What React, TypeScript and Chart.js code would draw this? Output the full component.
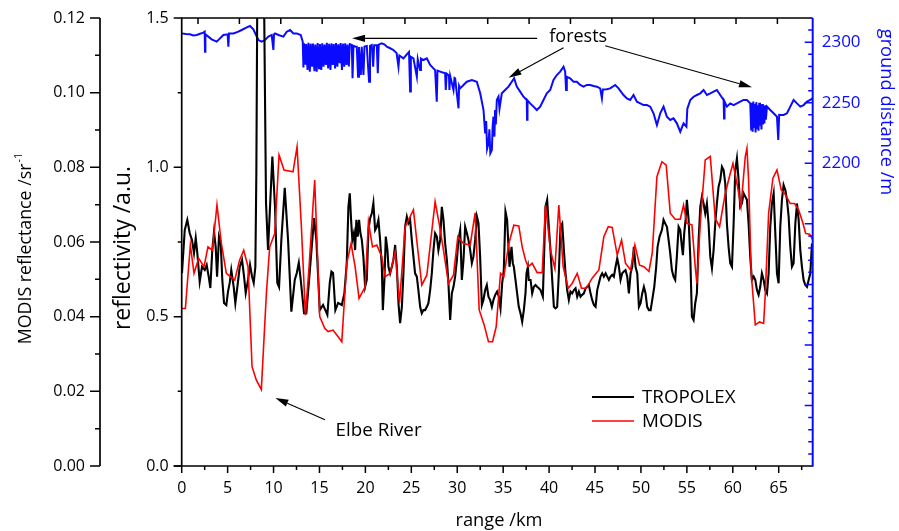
import { useEffect, useRef } from "react";
import { Chart, registerables } from "chart.js";

Chart.register(...registerables);

// ---------------- data ----------------
const tropolexKm = [
  0.03, 0.33, 0.61, 0.87, 1.12, 1.34, 1.53, 1.70, 1.96, 2.21, 2.51, 2.72, 2.94, 3.12, 3.33, 3.52, 3.70, 3.85, 4.06, 4.25,
  4.42, 4.61, 4.86, 5.04, 5.23, 5.40, 5.66, 5.84, 6.06, 6.32, 6.57, 6.79, 6.97, 7.22, 7.44, 7.66, 7.84, 8.02, 8.13, 8.26,
  8.91, 9.18, 9.40, 9.87, 10.16, 10.41, 10.60, 10.85, 11.22, 11.58, 11.94, 12.31, 12.53, 12.75, 12.96, 13.32, 13.57, 13.87, 14.41, 14.66,
  15.03, 15.39, 15.64, 15.86, 16.12, 16.30, 16.48, 16.73, 17.03, 17.43, 17.71, 17.97, 18.15, 18.30, 18.44, 18.58, 18.74, 18.88, 19.02, 19.17,
  19.31, 19.46, 19.61, 19.78, 19.97, 20.15, 20.33, 20.51, 20.70, 20.87, 21.06, 21.24, 21.42, 21.60, 21.79, 21.90, 22.07, 22.22, 22.40, 22.51,
  22.69, 22.88, 23.05, 23.24, 23.42, 23.60, 23.78, 23.97, 24.14, 24.32, 24.51, 24.68, 24.87, 25.05, 25.23, 25.41, 25.60, 25.77, 25.96, 26.14,
  26.32, 26.50, 26.69, 26.86, 27.05, 27.23, 27.41, 27.59, 27.78, 27.95, 28.14, 28.32, 28.50, 28.68, 28.87, 29.04, 29.23, 29.41, 29.59, 29.77,
  29.96, 30.13, 30.32, 30.50, 30.68, 30.86, 31.05, 31.22, 31.41, 31.59, 31.76, 31.95, 32.14, 32.31, 32.49, 32.68, 32.85, 33.04, 33.22, 33.40,
  33.58, 33.77, 33.94, 34.13, 34.34, 34.53, 34.71, 34.89, 35.07, 35.25, 35.43, 35.54, 35.69, 35.91, 36.05, 36.16, 36.34, 36.52, 36.70, 36.89,
  37.07, 37.25, 37.43, 37.54, 37.69, 37.79, 37.98, 38.16, 38.34, 38.52, 38.70, 38.88, 39.07, 39.32, 39.43, 39.61, 39.79, 39.97, 40.15, 40.34,
  40.52, 40.70, 40.88, 41.06, 41.24, 41.43, 41.61, 41.79, 41.97, 42.15, 42.33, 42.51, 42.70, 42.88, 43.06, 43.24, 43.42, 43.60, 43.79, 43.97,
  44.15, 44.33, 44.51, 44.69, 44.88, 45.06, 45.24, 45.42, 45.60, 45.78, 45.96, 46.15, 46.33, 46.51, 46.69, 46.87, 47.05, 47.24, 47.42, 47.60,
  47.78, 47.96, 48.14, 48.32, 48.51, 48.69, 48.87, 49.05, 49.23, 49.41, 49.60, 49.78, 49.96, 50.14, 50.32, 50.50, 50.68, 50.87, 51.05, 51.23,
  51.45, 51.66, 51.81, 52.03, 52.28, 52.46, 52.64, 52.83, 53.01, 53.19, 53.37, 53.55, 53.73, 53.91, 54.10, 54.28, 54.46, 54.57, 54.71, 54.86,
  55.00, 55.19, 55.37, 55.55, 55.73, 55.91, 56.09, 56.28, 56.46, 56.64, 56.82, 57.00, 57.18, 57.36, 57.55, 57.73, 57.91, 58.09, 58.27, 58.45,
  58.64, 58.82, 59.00, 59.18, 59.36, 59.54, 59.72, 59.91, 60.09, 60.27, 60.45, 60.63, 60.81, 60.99, 61.18, 61.36, 61.54, 61.72, 61.90, 62.08,
  62.27, 62.45, 62.63, 62.81, 62.99, 63.17, 63.36, 63.54, 63.72, 63.90, 64.08, 64.26, 64.45, 64.63, 64.81, 64.99, 65.17, 65.35, 65.53, 65.72,
  65.90, 66.08, 66.26, 66.44, 66.62, 66.81, 66.99, 67.17, 67.35, 67.53, 67.71, 67.89, 68.08, 68.26, 68.44, 68.62,
];
const tropolexRefl = [
  0.646, 0.790, 0.824, 0.780, 0.757, 0.713, 0.763, 0.713, 0.617, 0.667, 0.656, 0.673, 0.634, 0.596, 0.723, 0.784, 0.734, 0.634, 0.768, 0.747,
  0.623, 0.546, 0.539, 0.584, 0.613, 0.656, 0.600, 0.545, 0.600, 0.667, 0.690, 0.634, 0.579, 0.623, 0.673, 0.634, 0.613, 0.667, 0.991, 1.75,
  1.75, 0.881, 0.723, 1.036, 0.867, 0.613, 0.599, 0.757, 0.931, 0.757, 0.517, 0.623, 0.646, 0.680, 0.623, 0.512, 0.512, 0.623, 0.830, 0.757,
  0.522, 0.539, 0.522, 0.506, 0.613, 0.651, 0.646, 0.522, 0.546, 0.539, 0.578, 0.679, 0.868, 0.913, 0.824, 0.757, 0.779, 0.723, 0.824, 0.768,
  0.824, 0.779, 0.757, 0.701, 0.600, 0.623, 0.790, 0.829, 0.846, 0.880, 0.790, 0.801, 0.824, 0.757, 0.667, 0.522, 0.623, 0.768, 0.723, 0.667,
  0.645, 0.667, 0.690, 0.740, 0.667, 0.545, 0.478, 0.533, 0.645, 0.801, 0.835, 0.813, 0.824, 0.757, 0.701, 0.645, 0.634, 0.589, 0.533, 0.511,
  0.522, 0.522, 0.533, 0.545, 0.589, 0.645, 0.723, 0.779, 0.768, 0.723, 0.757, 0.868, 0.824, 0.746, 0.690, 0.612, 0.489, 0.578, 0.600, 0.634,
  0.690, 0.757, 0.790, 0.623, 0.690, 0.801, 0.779, 0.757, 0.723, 0.679, 0.701, 0.757, 0.835, 0.813, 0.701, 0.539, 0.556, 0.589, 0.606, 0.567,
  0.556, 0.533, 0.556, 0.573, 0.584, 0.567, 0.528, 0.612, 0.656, 0.852, 0.824, 0.757, 0.667, 0.734, 0.679, 0.667, 0.623, 0.578, 0.533, 0.511,
  0.483, 0.522, 0.578, 0.645, 0.667, 0.623, 0.623, 0.578, 0.600, 0.606, 0.600, 0.595, 0.589, 0.567, 0.679, 0.868, 0.891, 0.801, 0.723, 0.623,
  0.533, 0.528, 0.533, 0.645, 0.801, 0.812, 0.723, 0.645, 0.589, 0.556, 0.584, 0.578, 0.589, 0.595, 0.567, 0.584, 0.567, 0.573, 0.578, 0.595,
  0.600, 0.606, 0.578, 0.556, 0.539, 0.533, 0.589, 0.612, 0.634, 0.645, 0.634, 0.645, 0.634, 0.623, 0.634, 0.640, 0.634, 0.667, 0.695, 0.667,
  0.623, 0.645, 0.651, 0.656, 0.634, 0.578, 0.645, 0.667, 0.734, 0.667, 0.645, 0.533, 0.545, 0.578, 0.600, 0.578, 0.533, 0.522, 0.522, 0.556,
  0.600, 0.667, 0.734, 0.768, 0.790, 0.824, 0.812, 0.801, 0.757, 0.712, 0.656, 0.634, 0.623, 0.701, 0.801, 0.790, 0.734, 0.706, 0.779, 0.824,
  0.891, 0.824, 0.701, 0.500, 0.489, 0.545, 0.578, 0.757, 0.868, 0.902, 0.879, 0.846, 0.879, 0.812, 0.701, 0.662, 0.723, 0.812, 0.879, 0.935,
  0.958, 1.002, 0.991, 0.946, 0.812, 0.734, 0.679, 0.667, 0.812, 0.991, 1.030, 0.958, 0.868, 0.879, 0.913, 0.902, 0.891, 0.812, 0.701, 0.623,
  0.634, 0.623, 0.589, 0.573, 0.600, 0.645, 0.623, 0.589, 0.578, 0.645, 0.801, 0.879, 0.913, 0.779, 0.645, 0.612, 0.801, 0.891, 0.941, 0.924,
  0.891, 0.835, 0.734, 0.667, 0.679, 0.812, 0.879, 0.824, 0.723, 0.667, 0.623, 0.606, 0.600, 0.623, 0.645, 0.745,
];

const modisKm = [
  0.00, 0.40, 0.94, 1.34, 1.85, 2.43, 2.86, 3.34, 3.84, 4.32, 4.86, 5.77, 6.31, 6.75, 7.22, 7.66, 8.13, 8.67, 9.22, 9.58,
  10.13, 10.60, 11.14, 12.12, 12.56, 13.03, 13.47, 13.87, 14.48, 15.03, 15.57, 15.94, 16.48, 17.03, 17.43, 17.97, 18.44, 18.88, 19.31, 19.97,
  20.33, 20.77, 21.24, 21.78, 22.15, 22.69, 23.24, 23.71, 24.33, 25.23, 25.71, 26.14, 26.69, 27.59, 28.03, 28.50, 29.05, 29.59, 30.06, 30.68,
  31.41, 31.95, 32.39, 32.93, 33.40, 33.84, 34.24, 34.71, 35.07, 35.62, 36.16, 36.70, 37.07, 37.43, 37.72, 38.16, 38.70, 39.25, 39.61, 40.15,
  40.63, 41.06, 41.53, 42.08, 42.51, 43.06, 43.53, 44.04, 44.69, 45.42, 45.96, 46.44, 46.87, 47.42, 47.89, 48.32, 48.87, 49.34, 49.85, 50.32,
  50.87, 51.23, 51.45, 51.74, 52.28, 52.75, 53.19, 53.73, 54.28, 54.64, 55.00, 55.55, 55.91, 56.09, 56.46, 57.00, 57.55, 58.09, 58.56, 59.18,
  59.54, 60.02, 60.52, 60.89, 61.36, 61.54, 61.72, 62.01, 62.45, 62.92, 63.36, 63.54, 63.90, 64.37, 64.81, 65.28, 65.64, 66.26, 66.73, 67.17,
  67.64, 67.93, 68.37, 68.73,
];
const modisRefl = [
  0.0422, 0.0422, 0.0592, 0.0516, 0.0556, 0.0534, 0.0587, 0.0578, 0.0699, 0.0596, 0.0516, 0.0498, 0.0552, 0.0578, 0.0534, 0.0266, 0.0230, 0.0205, 0.0462, 0.0587,
  0.0623, 0.0833, 0.0793, 0.0788, 0.0855, 0.0641, 0.0404, 0.0534, 0.0766, 0.0400, 0.0369, 0.0360, 0.0364, 0.0346, 0.0333, 0.0543, 0.0596, 0.0534, 0.0449, 0.0480,
  0.0654, 0.0587, 0.0592, 0.0561, 0.0507, 0.0516, 0.0574, 0.0436, 0.0641, 0.0686, 0.0578, 0.0485, 0.0511, 0.0708, 0.0650, 0.0578, 0.0489, 0.0511, 0.0614, 0.0596,
  0.0592, 0.0678, 0.0418, 0.0378, 0.0333, 0.0333, 0.0373, 0.0516, 0.0507, 0.0596, 0.0645, 0.0643, 0.0587, 0.0552, 0.0534, 0.0543, 0.0518, 0.0518, 0.0699, 0.0578,
  0.0529, 0.0699, 0.0534, 0.0476, 0.0489, 0.0516, 0.0476, 0.0476, 0.0503, 0.0525, 0.0614, 0.0641, 0.0639, 0.0565, 0.0605, 0.0543, 0.0525, 0.0592, 0.0538, 0.0534,
  0.0521, 0.0570, 0.0659, 0.0775, 0.0815, 0.0806, 0.0677, 0.0661, 0.0661, 0.0699, 0.0650, 0.0646, 0.0534, 0.0489, 0.0650, 0.0820, 0.0829, 0.0663, 0.0641, 0.0730,
  0.0766, 0.0811, 0.0748, 0.0695, 0.0829, 0.0851, 0.0766, 0.0516, 0.0378, 0.0386, 0.0382, 0.0462, 0.0677, 0.0771, 0.0793, 0.0739, 0.0730, 0.0703, 0.0703, 0.0686,
  0.0650, 0.0623, 0.0621, 0.0605,
];

const groundKm = [
  0.00, 0.45, 0.90, 1.25, 1.63, 2.00, 2.36, 2.50, 2.54, 2.58, 2.90, 3.26, 3.81, 4.17, 4.54, 5.00, 5.08, 5.15, 5.63, 6.17,
  6.53, 7.08, 7.44, 7.80, 8.09, 8.35, 8.71, 9.07, 9.44, 9.80, 9.98, 10.05, 10.16, 10.53, 11.07, 11.44, 11.80, 12.16, 12.52, 12.96,
  13.18, 13.25, 13.32, 13.45, 13.55, 13.70, 13.80, 13.95, 14.05, 14.20, 14.30, 14.45, 14.55, 14.70, 14.80, 14.95, 15.05, 15.20, 15.30, 15.45,
  15.55, 15.70, 15.80, 15.95, 16.05, 16.20, 16.30, 16.45, 16.55, 16.70, 16.80, 16.95, 17.05, 17.20, 17.30, 17.45, 17.55, 17.70, 17.80, 17.95,
  18.05, 18.20, 18.30, 18.52, 18.60, 18.70, 18.90, 19.06, 19.20, 19.30, 19.50, 19.60, 19.79, 19.90, 20.15, 20.40, 20.50, 20.69, 20.85, 20.95,
  21.24, 21.35, 21.45, 21.78, 22.10, 22.33, 22.70, 23.05, 23.40, 23.60, 23.70, 24.14, 24.60, 24.75, 24.87, 24.95, 25.23, 25.60, 25.70, 25.96,
  26.05, 26.32, 26.69, 27.05, 27.59, 27.77, 27.85, 28.14, 28.68, 28.75, 28.85, 29.10, 29.15, 29.23, 29.59, 29.70, 29.77, 30.14, 30.20, 30.32,
  30.68, 31.04, 31.59, 32.13, 32.50, 32.86, 33.04, 33.15, 33.25, 33.40, 33.50, 33.60, 33.77, 33.85, 33.94, 34.05, 34.12, 34.20, 34.31, 34.49,
  34.60, 34.85, 35.21, 35.58, 35.94, 36.19, 36.48, 36.85, 37.21, 37.57, 37.60, 37.65, 37.94, 38.30, 38.66, 39.03, 39.39, 39.75, 40.12, 40.48,
  40.84, 41.21, 41.57, 41.75, 41.85, 41.93, 42.29, 42.66, 43.02, 43.38, 43.75, 44.11, 44.47, 44.84, 45.20, 45.56, 45.75, 45.85, 46.29, 46.65,
  47.20, 47.56, 48.10, 48.47, 48.83, 49.19, 49.56, 49.92, 50.28, 50.65, 51.01, 51.37, 51.74, 52.10, 52.46, 52.82, 53.19, 53.55, 53.91, 54.28,
  54.64, 54.95, 55.05, 55.37, 55.73, 56.09, 56.46, 56.82, 57.18, 57.55, 57.91, 58.27, 58.63, 59.00, 59.05, 59.10, 59.36, 59.72, 60.09, 60.45,
  60.81, 61.18, 61.54, 61.90, 62.00, 62.08, 62.16, 62.24, 62.32, 62.40, 62.48, 62.56, 62.64, 62.72, 62.80, 62.88, 62.96, 63.04, 63.12, 63.20,
  63.28, 63.36, 63.44, 63.52, 63.60, 63.72, 64.08, 64.44, 64.81, 64.95, 65.05, 65.17, 65.53, 65.90, 66.26, 66.62, 66.99, 67.35, 67.71, 68.08,
  68.44, 68.70,
];
const groundDist = [
  2307.3, 2306.8, 2306.5, 2305.5, 2306.0, 2307.0, 2307.9, 2308.7, 2292.2, 2306.5, 2304.6, 2302.4, 2300.5, 2303.2, 2306.0, 2306.5, 2296.3, 2307.3, 2307.3, 2308.7,
  2310.1, 2312.3, 2313.4, 2310.6, 2306.0, 2301.8, 2300.5, 2301.8, 2304.6, 2306.0, 2293.6, 2306.5, 2307.3, 2306.0, 2304.6, 2308.7, 2310.1, 2307.3, 2307.3, 2306.0,
  2300.5, 2279.2, 2299.1, 2281.5, 2298.5, 2277.0, 2299.5, 2275.7, 2298.8, 2279.8, 2299.0, 2276.0, 2298.0, 2275.7, 2299.3, 2278.4, 2298.5, 2277.0, 2299.1, 2279.8,
  2298.0, 2281.2, 2299.5, 2278.4, 2298.7, 2277.0, 2299.0, 2281.2, 2298.5, 2278.4, 2299.4, 2279.8, 2298.2, 2282.6, 2299.3, 2277.0, 2298.8, 2279.8, 2299.1, 2281.2,
  2298.0, 2280.0, 2298.3, 2297.7, 2270.2, 2297.0, 2296.5, 2296.3, 2271.5, 2296.0, 2273.0, 2296.3, 2272.9, 2296.5, 2296.9, 2267.4, 2297.0, 2297.7, 2279.8, 2297.5,
  2297.7, 2274.3, 2298.0, 2299.1, 2298.0, 2296.3, 2295.0, 2293.6, 2291.0, 2279.8, 2289.0, 2286.7, 2290.8, 2292.0, 2259.2, 2288.0, 2286.7, 2271.5, 2286.0, 2277.0,
  2286.5, 2285.3, 2286.7, 2281.2, 2277.0, 2250.9, 2276.5, 2275.7, 2274.3, 2260.5, 2274.0, 2272.5, 2260.5, 2272.1, 2260.5, 2270.5, 2270.2, 2245.4, 2264.0, 2261.9,
  2264.7, 2267.4, 2268.8, 2267.4, 2257.8, 2244.0, 2224.7, 2235.0, 2212.0, 2216.5, 2228.0, 2208.2, 2211.0, 2230.0, 2238.5, 2222.0, 2244.0, 2232.0, 2252.3, 2255.0,
  2245.0, 2257.8, 2260.5, 2263.3, 2267.4, 2270.2, 2263.3, 2259.2, 2255.0, 2252.3, 2236.0, 2252.0, 2249.5, 2246.8, 2244.0, 2246.8, 2252.3, 2257.8, 2260.5, 2268.8,
  2272.9, 2275.7, 2279.8, 2275.7, 2260.5, 2271.5, 2270.2, 2267.4, 2267.4, 2264.7, 2263.3, 2264.7, 2264.7, 2263.8, 2263.3, 2261.9, 2253.6, 2261.0, 2261.1, 2261.9,
  2264.7, 2261.9, 2256.4, 2253.6, 2252.3, 2256.4, 2250.9, 2249.5, 2248.1, 2248.1, 2246.8, 2241.3, 2231.6, 2241.3, 2246.8, 2238.5, 2235.8, 2237.1, 2233.0, 2226.1,
  2233.0, 2230.3, 2245.0, 2252.3, 2255.0, 2256.4, 2257.8, 2260.5, 2256.4, 2257.8, 2259.2, 2260.5, 2256.4, 2252.3, 2237.0, 2251.0, 2246.8, 2249.5, 2248.1, 2249.5,
  2250.9, 2252.3, 2252.3, 2249.5, 2228.0, 2250.0, 2226.0, 2251.0, 2230.0, 2249.0, 2225.5, 2250.5, 2229.0, 2248.0, 2227.0, 2250.0, 2231.0, 2248.5, 2228.0, 2249.0,
  2232.0, 2247.0, 2233.0, 2248.0, 2236.0, 2246.8, 2244.0, 2241.3, 2238.5, 2219.2, 2240.0, 2239.9, 2239.9, 2241.3, 2246.8, 2252.3, 2249.5, 2246.8, 2248.1, 2250.9,
  2252.3, 2254.0,
];

// axis ticks
const rangeTicks = [0, 5, 10, 15, 20, 25, 30, 35, 40, 45, 50, 55, 60, 65];
const rangeMinorTicks = [2.5, 7.5, 12.5, 17.5, 22.5, 27.5, 32.5, 37.5, 42.5, 47.5, 52.5, 57.5, 62.5, 67.5];
const topTicks = [0, 1, 2, 3, 4, 5, 6, 7, 8, 9, 10, 11, 12, 13, 14];
const reflTicks = [0, 0.5, 1.0, 1.5];
const reflMinorTicks = [0.25, 0.75, 1.25];
const modisTicks = [0, 0.02, 0.04, 0.06, 0.08, 0.1, 0.12];
const modisMinorTicks = [0.01, 0.03, 0.05, 0.07, 0.09, 0.11];
const groundMajorTicks = [2000, 2050, 2100, 2150, 2200, 2250, 2300];
const groundMinorTicks = [1960, 1970, 1980, 1990, 2010, 2020, 2030, 2040, 2060, 2070, 2080, 2090, 2110, 2120, 2130, 2140, 2160, 2170, 2180, 2190, 2210, 2220, 2230, 2240, 2260, 2270, 2280, 2290, 2310];
const groundLabels = [2200, 2250, 2300];

// annotations (in data coordinates)
const forestText = { km: 43.17, dist: 2304.6 };
const forestArrows = [
  { fromKm: 38.7, fromDist: 2303.2, toKm: 18.55, toDist: 2303.2 },
  { fromKm: 41.57, fromDist: 2295.5, toKm: 35.58, toDist: 2270.7 },
  { fromKm: 46.11, fromDist: 2297.1, toKm: 62.09, toDist: 2262.8 },
];
const elbeText = { km: 16.75, refl: 0.12 };
const elbeArrow = { fromKm: 15.6, fromRefl: 0.155, toKm: 10.2, toRefl: 0.228 };

const FONT = '"Open Sans", "Noto Sans", sans-serif';
const BLUE = "#0a0aff";

function drawArrow(ctx: CanvasRenderingContext2D, x1: number, y1: number, x2: number, y2: number) {
  const ang = Math.atan2(y2 - y1, x2 - x1);
  const len = 13;
  const hw = 3.6;
  const bx = x2 - len * Math.cos(ang);
  const by = y2 - len * Math.sin(ang);
  ctx.beginPath();
  ctx.moveTo(x1, y1);
  ctx.lineTo(bx, by);
  ctx.stroke();
  ctx.beginPath();
  ctx.moveTo(x2, y2);
  ctx.lineTo(bx + hw * Math.sin(ang), by - hw * Math.cos(ang));
  ctx.lineTo(bx - hw * Math.sin(ang), by + hw * Math.cos(ang));
  ctx.closePath();
  ctx.fill();
}

const axesPlugin = {
  id: "customAxes",
  afterDatasetsDraw(chart: any) {
    const ctx: CanvasRenderingContext2D = chart.ctx;
    const { left, right, top, bottom } = chart.chartArea;
    const sx = chart.scales.x;
    const sTop = chart.scales.xTop;
    const sR = chart.scales.yRefl;
    const sM = chart.scales.yModis;
    const sG = chart.scales.yGround;
    const outerX = 100;

    ctx.save();
    ctx.lineCap = "butt";

    // ---- black frame: bottom, top, inner-left
    ctx.strokeStyle = "#000";
    ctx.fillStyle = "#000";
    ctx.lineWidth = 1.7;
    ctx.beginPath();
    ctx.moveTo(left - 8, bottom);
    ctx.lineTo(right, bottom);
    ctx.moveTo(left, bottom);
    ctx.lineTo(left, top);
    ctx.lineTo(right, top);
    ctx.stroke();

    // bottom ticks
    ctx.lineWidth = 1.5;
    ctx.beginPath();
    rangeTicks.forEach((v) => {
      const px = sx.getPixelForValue(v);
      ctx.moveTo(px, bottom);
      ctx.lineTo(px, bottom + 7);
    });
    rangeMinorTicks.forEach((v) => {
      const px = sx.getPixelForValue(v);
      ctx.moveTo(px, bottom);
      ctx.lineTo(px, bottom + 4);
    });
    // top ticks (inward)
    topTicks.forEach((v) => {
      const px = sTop.getPixelForValue(v);
      ctx.moveTo(px, top);
      ctx.lineTo(px, top + 6);
    });
    // inner left ticks
    reflTicks.forEach((v) => {
      const py = sR.getPixelForValue(v);
      ctx.moveTo(left, py);
      ctx.lineTo(left - 8, py);
    });
    reflMinorTicks.forEach((v) => {
      const py = sR.getPixelForValue(v);
      ctx.moveTo(left, py);
      ctx.lineTo(left - 4, py);
    });
    ctx.stroke();

    // outer left axis
    ctx.lineWidth = 1.7;
    ctx.beginPath();
    ctx.moveTo(outerX, sM.getPixelForValue(0));
    ctx.lineTo(outerX, sM.getPixelForValue(0.12));
    ctx.stroke();
    ctx.lineWidth = 1.5;
    ctx.beginPath();
    modisTicks.forEach((v) => {
      const py = sM.getPixelForValue(v);
      ctx.moveTo(outerX, py);
      ctx.lineTo(outerX - 10, py);
    });
    modisMinorTicks.forEach((v) => {
      const py = sM.getPixelForValue(v);
      ctx.moveTo(outerX, py);
      ctx.lineTo(outerX - 5, py);
    });
    ctx.stroke();

    // tick labels
    ctx.font = `16px ${FONT}`;
    ctx.textBaseline = "middle";
    ctx.textAlign = "center";
    rangeTicks.forEach((v) => {
      ctx.fillText(String(v), sx.getPixelForValue(v), bottom + 22);
    });
    ctx.textAlign = "right";
    reflTicks.forEach((v) => {
      ctx.fillText(v.toFixed(1), left - 13, sR.getPixelForValue(v));
    });
    modisTicks.forEach((v) => {
      ctx.fillText(v.toFixed(2), outerX - 15, sM.getPixelForValue(v));
    });

    // ---- right blue axis
    ctx.strokeStyle = BLUE;
    ctx.fillStyle = BLUE;
    ctx.lineWidth = 2;
    ctx.beginPath();
    ctx.moveTo(right, top);
    ctx.lineTo(right, bottom + 0.8);
    ctx.stroke();
    ctx.lineWidth = 1.5;
    ctx.beginPath();
    groundMajorTicks.forEach((v) => {
      const py = sG.getPixelForValue(v);
      ctx.moveTo(right, py);
      ctx.lineTo(right - 8, py);
    });
    groundMinorTicks.forEach((v) => {
      const py = sG.getPixelForValue(v);
      ctx.moveTo(right, py);
      ctx.lineTo(right - 4.5, py);
    });
    ctx.stroke();
    ctx.font = `17px ${FONT}`;
    ctx.textAlign = "left";
    groundLabels.forEach((v) => {
      ctx.fillText(String(v), right + 9, sG.getPixelForValue(v));
    });

    // right title
    ctx.save();
    ctx.translate(881, 112);
    ctx.rotate(Math.PI / 2);
    ctx.textAlign = "center";
    ctx.textBaseline = "alphabetic";
    ctx.font = `18.3px ${FONT}`;
    ctx.fillText("ground distance /m", 0, 0);
    ctx.restore();

    // ---- black titles
    ctx.fillStyle = "#000";
    ctx.strokeStyle = "#000";

    // bottom title
    ctx.font = `18.3px ${FONT}`;
    ctx.textAlign = "center";
    ctx.textBaseline = "alphabetic";
    ctx.fillText("range /km", 499, 526);

    // inner left title
    ctx.save();
    ctx.translate(130, 248);
    ctx.rotate(-Math.PI / 2);
    ctx.font = `23px ${FONT}`;
    ctx.textAlign = "center";
    ctx.textBaseline = "alphabetic";
    ctx.fillText("reflectivity /a.u.", 0, 0);
    ctx.restore();

    // outer left title with superscript
    ctx.save();
    ctx.translate(31, 249);
    ctx.rotate(-Math.PI / 2);
    ctx.textBaseline = "alphabetic";
    ctx.textAlign = "left";
    const main = "MODIS reflectance /sr";
    const sup = "-1";
    ctx.font = `17.8px ${FONT}`;
    const w1 = ctx.measureText(main).width;
    ctx.font = `11px ${FONT}`;
    const w2 = ctx.measureText(sup).width;
    const start = -(w1 + w2) / 2;
    ctx.font = `17.8px ${FONT}`;
    ctx.fillText(main, start, 0);
    ctx.font = `11px ${FONT}`;
    ctx.fillText(sup, start + w1 + 1, -9);
    ctx.restore();

    // ---- annotations
    ctx.lineWidth = 1.1;
    ctx.font = `18px ${FONT}`;
    ctx.textAlign = "center";
    ctx.textBaseline = "middle";
    ctx.fillText("forests", sx.getPixelForValue(forestText.km), sG.getPixelForValue(forestText.dist));
    forestArrows.forEach((a) => {
      drawArrow(
        ctx,
        sx.getPixelForValue(a.fromKm),
        sG.getPixelForValue(a.fromDist),
        sx.getPixelForValue(a.toKm),
        sG.getPixelForValue(a.toDist)
      );
    });
    ctx.font = `18.8px ${FONT}`;
    ctx.textAlign = "left";
    ctx.fillText("Elbe River", sx.getPixelForValue(elbeText.km), sR.getPixelForValue(elbeText.refl));
    drawArrow(
      ctx,
      sx.getPixelForValue(elbeArrow.fromKm),
      sR.getPixelForValue(elbeArrow.fromRefl),
      sx.getPixelForValue(elbeArrow.toKm),
      sR.getPixelForValue(elbeArrow.toRefl)
    );

    // ---- legend
    const legendItems = [
      { label: "TROPOLEX", color: "#000", y: 397 },
      { label: "MODIS", color: "#ff0000", y: 421 },
    ];
    ctx.font = `18.8px ${FONT}`;
    ctx.textAlign = "left";
    ctx.textBaseline = "middle";
    legendItems.forEach((it) => {
      ctx.strokeStyle = it.color;
      ctx.lineWidth = it.color === "#000" ? 2 : 1.6;
      ctx.beginPath();
      ctx.moveTo(592, it.y);
      ctx.lineTo(634, it.y);
      ctx.stroke();
      ctx.fillStyle = "#000";
      ctx.fillText(it.label, 642, it.y + 1);
    });

    ctx.restore();
  },
};

export default function App() {
  const canvasRef = useRef<HTMLCanvasElement | null>(null);

  useEffect(() => {
    document.body.style.margin = "0";
    const canvas = canvasRef.current;
    if (!canvas) return;
    const chart = new Chart(canvas, {
      type: "line",
      data: {
        datasets: [
          {
            label: "MODIS",
            data: modisKm.map((x, i) => ({ x, y: modisRefl[i] })),
            xAxisID: "x",
            yAxisID: "yModis",
            borderColor: "#ff0000",
            borderWidth: 1.6,
            pointRadius: 0,
            tension: 0,
            fill: false,
          },
          {
            label: "TROPOLEX",
            data: tropolexKm.map((x, i) => ({ x, y: tropolexRefl[i] })),
            xAxisID: "x",
            yAxisID: "yRefl",
            borderColor: "#000000",
            borderWidth: 2.1,
            pointRadius: 0,
            tension: 0,
            fill: false,
          },
          {
            label: "ground distance",
            data: groundKm.map((x, i) => ({ x, y: groundDist[i] })),
            xAxisID: "x",
            yAxisID: "yGround",
            borderColor: BLUE,
            borderWidth: 2,
            pointRadius: 0,
            tension: 0,
            fill: false,
          },
        ],
      },
      options: {
        responsive: false,
        animation: false,
        events: [],
        layout: { padding: { left: 181.7, right: 86.3, top: 18, bottom: 65 } },
        plugins: { legend: { display: false }, tooltip: { enabled: false } },
        scales: {
          x: { type: "linear", min: 0, max: 68.7, display: false },
          xTop: { type: "linear", position: "top", min: -0.394, max: 14.853, display: false },
          yRefl: { type: "linear", position: "left", min: 0, max: 1.5, display: false },
          yModis: { type: "linear", position: "left", min: 0, max: 0.12, display: false },
          yGround: { type: "linear", position: "right", min: 1950, max: 2320, display: false },
        },
      },
      plugins: [axesPlugin],
    });
    return () => chart.destroy();
  }, []);

  return (
    <div style={{ width: 899, height: 531, background: "#fff" }}>
      <canvas ref={canvasRef} width={899} height={531} style={{ display: "block" }} />
    </div>
  );
}
